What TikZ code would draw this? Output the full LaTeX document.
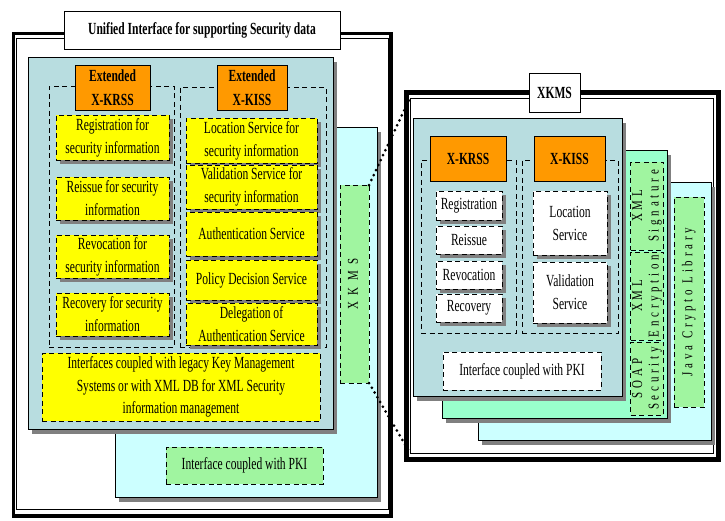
\documentclass[tikz,border=0pt]{standalone}
\usepackage{fontspec}
\usepackage{graphicx}
\setmainfont{Liberation Serif}[FakeStretch=0.68]
\newfontfamily\spc{Liberation Serif}[FakeStretch=0.73,LetterSpace=25]
\usetikzlibrary{shadows}
\definecolor{teal0}{RGB}{184,221,224}
\definecolor{cyan0}{RGB}{204,255,255}
\definecolor{mint0}{RGB}{153,255,204}
\definecolor{green0}{RGB}{160,245,160}
\definecolor{yellow0}{RGB}{255,255,0}
\definecolor{orange0}{RGB}{255,153,0}
\definecolor{shadowgray}{RGB}{128,128,128}
\newcommand{\boxat}[7]{\node[#6, minimum width={#4-#2}, minimum height={#5-#3}] (#1) at ({(#2+#4)/2},{(#3+#5)/2}) {#7};}
\newcommand{\vtext}[1]{\rotatebox{90}{\spc\begin{tabular}{@{}c@{}}#1\end{tabular}}}
\tikzset{
  base/.style={inner sep=0pt, outer sep=0pt, align=center, font=\fontsize{17}{23}\selectfont},
  box/.style={base, draw, line width=0.8pt},
  dsh/.style={dash pattern=on 5pt off 3.5pt},
  bigshadow/.style={drop shadow={shadow xshift=4pt, shadow yshift=-5pt, fill=shadowgray, draw=none, opacity=1}},
  smallshadow/.style={drop shadow={shadow xshift=3.5pt, shadow yshift=-3.5pt, fill=shadowgray, draw=none, opacity=1}},
  panel/.style={box, bigshadow},
  frameout/.style={base, draw, line width=3.6pt},
  framein/.style={base, draw, line width=0.9pt},
  titlebox/.style={box, fill=white, font=\bfseries\fontsize{17}{23}\selectfont},
  orangebox/.style={box, fill=orange0, font=\bfseries\fontsize{17}{23.5}\selectfont},
  group/.style={box, dsh},
  ybox/.style={box, dsh, fill=yellow0, smallshadow},
  wbox/.style={box, dsh, fill=white, smallshadow},
  gbox/.style={box, dsh, fill=green0},
  vbox/.style={box, dsh, fill=green0, font=\fontsize{15}{16.5}\selectfont},
  dotline/.style={line width=3pt, line cap=round, dash pattern=on 0pt off 5.5pt}
}
\begin{document}
\begin{tikzpicture}[x=1pt,y=-1pt]
\useasboundingbox (0,0) rectangle (725,520);
% ---------- left frame ----------
\boxat{lframe}{13.5}{33.5}{391}{516}{frameout}{}
\boxat{lframein}{16.5}{38}{388}{509.5}{framein}{}
\boxat{ltitle}{64}{11}{340}{49}{titlebox}{Unified Interface for supporting Security data}
\boxat{lcyan}{115}{127}{377}{497}{panel, fill=cyan0}{}
\boxat{lteal}{28}{57}{333}{429}{panel, fill=teal0}{}
\boxat{lkrssgrp}{49}{86}{174}{347}{group}{}
\boxat{lkissgrp}{180}{87}{326}{347}{group}{}
\boxat{lkrss}{75}{65}{150}{110}{orangebox}{Extended\\X-KRSS}
\boxat{lkiss}{217}{65}{287}{110}{orangebox}{Extended\\X-KISS}
\boxat{lreg}{56}{115}{169}{160}{ybox}{Registration for\\security information}
\boxat{lreiss}{56}{177}{169}{220}{ybox}{Reissue for security\\information}
\boxat{lrevoc}{56}{235}{169}{278}{ybox}{Revocation for\\security information}
\boxat{lrecov}{56}{293}{169}{336}{ybox}{Recovery for security\\information}
\boxat{lloc}{186}{118}{317}{163}{ybox}{Location Service for\\security information}
\boxat{lval}{186}{165}{317}{209}{ybox}{Validation Service for\\security information}
\boxat{lauth}{186}{212}{317}{256}{ybox}{Authentication Service}
\boxat{lpol}{186}{260}{317}{300}{ybox}{Policy Decision Service}
\boxat{ldeleg}{186}{303}{317}{345}{ybox}{Delegation of\\Authentication Service}
\boxat{llegacy}{42}{353}{320}{421}{box, dsh, fill=yellow0, font=\fontsize{17}{22.5}\selectfont}{Interfaces coupled with legacy Key Management\\Systems or with XML DB for XML Security\\information management}
\boxat{lxkms}{340}{185}{369}{383}{vbox}{\vtext{X K M S}}
\boxat{lpki}{166}{447}{323}{484}{gbox}{Interface coupled with PKI}
% ---------- right frame ----------
\boxat{rframe}{406}{92}{718}{459.5}{base, draw, line width=5pt}{}
\boxat{rin}{410}{98}{713}{453}{framein}{}
\boxat{rtitle}{529}{73}{580}{112}{titlebox}{XKMS}
\boxat{rcyan}{478}{182}{711}{440}{panel, fill=cyan0}{}
\boxat{rmint}{442}{150}{667}{418}{panel, fill=mint0}{}
\boxat{rteal}{413}{118}{622}{396}{panel, fill=teal0}{}
\boxat{rkrssgrp}{421}{160}{516}{333}{group}{}
\boxat{rkissgrp}{522}{160}{618}{333}{group}{}
\boxat{rkrss}{430}{136}{506}{181}{orangebox}{X-KRSS}
\boxat{rkiss}{534}{136}{605}{181}{orangebox}{X-KISS}
\boxat{rreg}{436}{191}{502}{220}{wbox}{Registration}
\boxat{rreiss}{436}{226}{502}{254}{wbox}{Reissue}
\boxat{rrevoc}{436}{261}{502}{289}{wbox}{Revocation}
\boxat{rrecov}{436}{294}{502}{322}{wbox}{Recovery}
\boxat{rloc}{533}{191}{607}{255}{wbox}{Location\\Service}
\boxat{rval}{533}{262}{607}{323}{wbox}{Validation\\Service}
\boxat{rpki}{443}{352}{601}{390}{box, dsh, fill=white}{Interface coupled with PKI}
\boxat{rsoap}{632}{342}{662}{415}{vbox}{\vtext{SOAP\\Security}}
\boxat{rxenc}{632}{252}{662}{340}{vbox}{\vtext{XML\\Encryption}}
\boxat{rxsig}{632}{162}{662}{250}{vbox}{\vtext{XML\\Signature}}
\boxat{rjava}{674}{197}{704}{407}{vbox}{\vtext{Java Crypto Library}}
% ---------- connectors ----------
\draw[dotline] (lxkms.north east) -- (rin.north west);
\draw[dotline] (lxkms.south east) -- (rin.south west);
\end{tikzpicture}
\end{document}
